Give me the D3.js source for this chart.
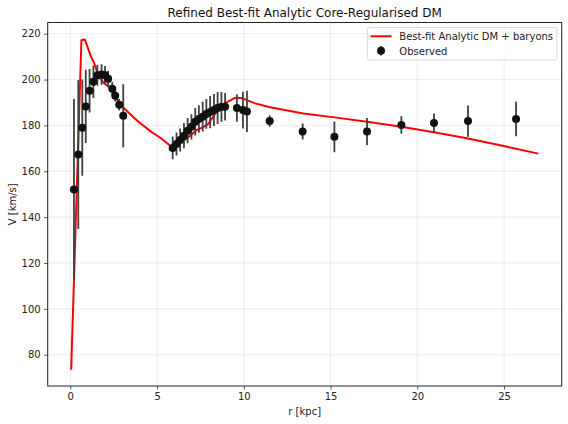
<!DOCTYPE html>
<html><head><meta charset="utf-8">
<script src="https://cdn.jsdelivr.net/npm/d3@7"></script>
<style>
body{margin:0;background:#fff;}
svg{display:block;font-family:"DejaVu Sans",sans-serif;}
</style></head>
<body>
<script>
// Observed data
const obsR = [0.21,0.46,0.69,0.89,1.11,1.33,1.56,1.80,2.00,2.18,2.42,2.59,2.82,3.05,
  5.90,6.12,6.33,6.55,6.76,6.98,7.20,7.41,7.63,7.84,8.06,8.28,8.49,8.71,8.92,
  9.60,9.95,10.18,
  11.49,13.39,15.22,17.10,19.08,20.96,22.92,25.69];
const obsV = [152.0,167.3,179.0,188.3,195.1,199.0,201.9,202.2,201.9,200.3,196.0,192.9,189.0,184.2,
  170.2,171.9,173.6,175.5,177.7,179.4,181.6,182.8,183.8,185.0,185.8,186.7,187.6,188.1,188.1,
  187.6,186.7,186.1,
  181.9,177.3,175.0,177.3,180.2,181.0,181.9,182.8];
const obsErr = [39.5,32.5,21.0,16.0,9.5,7.0,4.5,4.5,4.0,3.5,3.0,2.5,2.5,13.7,
  5.0,5.0,5.0,5.5,5.5,5.5,6.0,6.0,6.5,6.5,7.0,7.0,7.0,6.5,6.0,
  6.0,8.0,9.0,
  2.5,3.5,6.7,5.9,3.8,4.2,6.8,7.5];
// Best-fit model curve
const modelR = [0.05,0.64,0.84,1.17,1.37,1.65,1.94,2.33,2.81,3.29,3.86,4.63,5.21,5.88,6.42,6.90,7.28,7.57,7.95,8.34,8.82,9.49,9.88,10.65,11.51,13.43,15.22,17.10,19.08,20.96,22.92,25.05,26.97];
const modelV = [73.4,217.1,217.5,210.4,207.2,201.3,198.4,196.3,189.7,186.1,182.0,177.4,174.5,170.4,172.6,175.5,178.0,178.9,180.6,185.0,189.3,192.0,191.9,189.6,187.9,185.2,183.5,181.6,179.4,177.0,174.3,170.9,167.7];
// Ticks
const xTicks = [0,5,10,15,20,25];
const yTicks = [80,100,120,140,160,180,200,220];
const titleText = "Refined Best-fit Analytic Core-Regularised DM";
const xLabel = "r [kpc]";
const yLabel = "V [km/s]";
const legendLabels = ["Best-fit Analytic DM + baryons","Observed"];

const W=568,H=424;
const L=47.7,R=561.7,T=22.5,B=386;
const x=d3.scaleLinear().domain([-1.303,28.32]).range([L,R]);
const y=d3.scaleLinear().domain([66.35,224.88]).range([B,T]);

const svg=d3.select("body").append("svg").attr("width",W).attr("height",H);
svg.append("rect").attr("width",W).attr("height",H).attr("fill","#fff");

// grid
const g=svg.append("g");
g.selectAll(".gx").data(xTicks).join("line")
  .attr("x1",d=>x(d)).attr("x2",d=>x(d)).attr("y1",T).attr("y2",B)
  .attr("stroke","#b0b0b0").attr("stroke-opacity",0.3).attr("stroke-width",0.8);
g.selectAll(".gy").data(yTicks).join("line")
  .attr("y1",d=>y(d)).attr("y2",d=>y(d)).attr("x1",L).attr("x2",R)
  .attr("stroke","#b0b0b0").attr("stroke-opacity",0.3).attr("stroke-width",0.8);

// clip
svg.append("clipPath").attr("id","clip").append("rect").attr("x",L).attr("y",T).attr("width",R-L).attr("height",B-T);
const plot=svg.append("g").attr("clip-path","url(#clip)");

// model line
plot.append("path").datum(modelR.map((r,i)=>[r,modelV[i]]))
  .attr("d",d3.line().x(d=>x(d[0])).y(d=>y(d[1])))
  .attr("fill","none").attr("stroke","#ff0000").attr("stroke-width",2).attr("stroke-linejoin","round");

// error bars
const obs=obsR.map((r,i)=>({r,v:obsV[i],e:obsErr[i]}));
plot.selectAll(".eb").data(obs).join("line")
  .attr("x1",d=>x(d.r)).attr("x2",d=>x(d.r))
  .attr("y1",d=>y(d.v-d.e)).attr("y2",d=>y(d.v+d.e))
  .attr("stroke","#404040").attr("stroke-width",1.8);
plot.selectAll(".pt").data(obs).join("circle")
  .attr("cx",d=>x(d.r)).attr("cy",d=>y(d.v)).attr("r",4)
  .attr("fill","#111");

// axes
const xAxis=d3.axisBottom(x).tickValues(xTicks).tickSize(3.5).tickPadding(3.5).tickFormat(d3.format("d"));
const yAxis=d3.axisLeft(y).tickValues(yTicks).tickSize(3.5).tickPadding(3.5).tickFormat(d3.format("d"));
const ax=svg.append("g").attr("transform",`translate(0,${B})`).call(xAxis);
const ay=svg.append("g").attr("transform",`translate(${L},0)`).call(yAxis);
[ax,ay].forEach(a=>{
  a.select(".domain").remove();
  a.selectAll("text").attr("font-size",10).attr("font-family","DejaVu Sans").attr("fill","#222");
  a.selectAll("line").attr("stroke","#222").attr("stroke-width",0.8);
});
// spines
svg.append("rect").attr("x",L).attr("y",T).attr("width",R-L).attr("height",B-T)
  .attr("fill","none").attr("stroke","#222").attr("stroke-width",1);

// title & labels
svg.append("text").attr("x",(L+R)/2).attr("y",16.5).attr("text-anchor","middle")
  .attr("font-size",12).attr("fill","#111").text(titleText);
svg.append("text").attr("x",(L+R)/2).attr("y",415).attr("text-anchor","middle")
  .attr("font-size",10).attr("fill","#222").text(xLabel);
svg.append("text").attr("transform",`translate(16,${(T+B)/2}) rotate(-90)`).attr("text-anchor","middle")
  .attr("font-size",10).attr("fill","#222").text(yLabel);

// legend
const lg=svg.append("g");
lg.append("rect").attr("x",367.3).attr("y",27.5).attr("width",189.5).attr("height",32.5)
  .attr("rx",2.5).attr("fill","#fff").attr("fill-opacity",0.8).attr("stroke","#d0d0d0").attr("stroke-width",0.8);
lg.append("line").attr("x1",370.5).attr("x2",391.5).attr("y1",36.3).attr("y2",36.3)
  .attr("stroke","#ff0000").attr("stroke-width",2);
lg.append("line").attr("x1",381).attr("x2",381).attr("y1",46).attr("y2",55.5)
  .attr("stroke","#404040").attr("stroke-width",1.8);
lg.append("circle").attr("cx",381).attr("cy",50.7).attr("r",4).attr("fill","#111");
lg.selectAll(".lt").data(legendLabels).join("text")
  .attr("x",399.3).attr("y",(d,i)=>40+i*14.6).attr("font-size",10).attr("fill","#222").text(d=>d);
</script>
</body></html>
